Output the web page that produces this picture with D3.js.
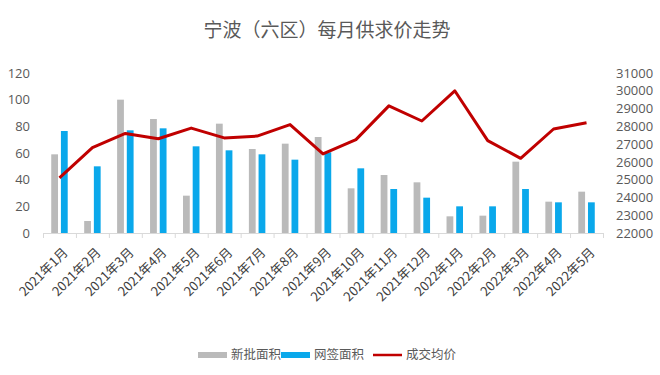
<!DOCTYPE html>
<html>
<head>
<meta charset="utf-8">
<script src="https://cdn.jsdelivr.net/npm/d3@7"></script>
<style>
  body { margin: 0; background: #fff; }
  text { font-family: "Noto Sans CJK SC", "Noto Sans", sans-serif; }
  .num text { font-family: "Open Sans", "Noto Sans", sans-serif; }
</style>
</head>
<body>
<div id="chart"></div>
<script>
const width = 660,
    height = 375,
    margin = ({ top: 73, right: 57, bottom: 142, left: 43 });

// months on the x axis
const months = ["2021年1月", "2021年2月", "2021年3月", "2021年4月", "2021年5月", "2021年6月",
    "2021年7月", "2021年8月", "2021年9月", "2021年10月", "2021年11月", "2021年12月",
    "2022年1月", "2022年2月", "2022年3月", "2022年4月", "2022年5月"];

// 新批面积 (left axis)
const newSupply = [59, 9, 100, 85.5, 28, 82, 63, 67, 72, 33.5, 43.5, 38, 12.5, 13, 53.5, 23.5, 31];
// 网签面积 (left axis)
const signed = [76.5, 50, 77, 78.5, 65, 62, 59, 55, 60.5, 48.5, 33, 26.5, 20, 20, 33, 23, 23];
// 成交均价 (right axis)
const avgPrice = [25100, 26800, 27600, 27300, 27900, 27350, 27450, 28100, 26450, 27250,
    29150, 28300, 30000, 27200, 26200, 27850, 28200];

const leftTicks = [0, 20, 40, 60, 80, 100, 120];
const rightTicks = d3.range(22000, 31001, 1000);

const series = [
    { key: "新批面积", values: newSupply, color: "#bababa" },
    { key: "网签面积", values: signed, color: "#0aa8eb" }
];

const svg = d3.select("#chart")
    .append("svg")
    .attr("width", width)
    .attr("height", height)
    .attr("viewBox", [0, 0, width, height]);

// title
svg.append("text")
    .attr("x", 327)
    .attr("y", 37)
    .attr("text-anchor", "middle")
    .attr("font-size", 19)
    .attr("fill", "#595959")
    .text("宁波（六区）每月供求价走势");

let x0 = d3.scaleBand()
    .domain(months)
    .range([margin.left, width - margin.right])
    .paddingInner(0.5)
    .paddingOuter(0.25);

let x1 = d3.scaleBand()
    .domain(series.map(s => s.key))
    .range([0, x0.bandwidth()])
    .paddingInner(0.3);

let y = d3.scaleLinear()
    .domain([0, 120])
    .range([height - margin.bottom, margin.top]);

let y2 = d3.scaleLinear()
    .domain([22000, 31000])
    .range([height - margin.bottom, margin.top]);

// left axis labels
svg.append("g")
    .attr("class", "num")
    .attr("transform", `translate(${margin.left - 10},0)`)
    .call(d3.axisLeft(y).tickValues(leftTicks).tickSize(0))
    .call(g => g.select(".domain").remove())
    .call(g => g.selectAll("text").attr("font-size", 13).attr("fill", "#595959"));

// right axis labels
svg.append("g")
    .attr("class", "num")
    .attr("transform", `translate(${width - margin.right + 10},0)`)
    .call(d3.axisRight(y2).tickValues(rightTicks).tickFormat(d3.format("d")).tickSize(0))
    .call(g => g.select(".domain").remove())
    .call(g => g.selectAll("text").attr("font-size", 13).attr("fill", "#595959"));

// bars
svg.append("g")
  .selectAll("g")
  .data(series)
  .join("g")
    .attr("fill", s => s.color)
  .selectAll("rect")
  .data(s => s.values.map((v, i) => ({ key: s.key, month: months[i], value: v })))
  .join("rect")
    .attr("x", d => x0(d.month) + x1(d.key))
    .attr("y", d => y(d.value))
    .attr("width", x1.bandwidth())
    .attr("height", d => y(0) - y(d.value));

// x axis: ticks sit between the categories
let xb = d3.scaleLinear()
    .domain([0, months.length])
    .range([margin.left, width - margin.right]);

svg.append("g")
    .attr("transform", `translate(0,${height - margin.bottom})`)
    .call(d3.axisBottom(xb).tickValues(d3.range(months.length + 1)).tickFormat("").tickSize(5).tickSizeOuter(0))
    .call(g => g.selectAll("line, path").attr("stroke", "#d9d9d9"));

// rotated month labels
svg.append("g")
  .selectAll("text")
  .data(months)
  .join("text")
    .attr("transform", d => `translate(${x0(d) + x0.bandwidth() / 2 + 6},${height - margin.bottom + 17}) rotate(-45)`)
    .attr("text-anchor", "end")
    .attr("dy", "0.35em")
    .attr("font-size", 13)
    .attr("fill", "#404040")
    .text(d => d);

// price line
let line = d3.line()
    .x((d, i) => x0(months[i]) + x0.bandwidth() / 2)
    .y(d => y2(d));

svg.append("path")
    .datum(avgPrice)
    .attr("d", line)
    .attr("fill", "none")
    .attr("stroke", "#c00000")
    .attr("stroke-width", 3)
    .attr("stroke-linejoin", "round");

// legend
const legend = [
    { key: "新批面积", color: "#bababa", type: "rect", x: 198 },
    { key: "网签面积", color: "#0aa8eb", type: "rect", x: 281 },
    { key: "成交均价", color: "#c00000", type: "line", x: 373 }
];

let lg = svg.append("g")
  .selectAll("g")
  .data(legend)
  .join("g")
    .attr("transform", d => `translate(${d.x},355)`);

lg.filter(d => d.type == "rect").append("rect")
    .attr("y", -3)
    .attr("width", 29)
    .attr("height", 6)
    .attr("fill", d => d.color);

lg.filter(d => d.type == "line").append("line")
    .attr("x2", 29)
    .attr("stroke", d => d.color)
    .attr("stroke-width", 2.5);

lg.append("text")
    .attr("x", 33)
    .attr("dy", "0.35em")
    .attr("font-size", 12.5)
    .attr("fill", "#595959")
    .text(d => d.key);
</script>
</body>
</html>
